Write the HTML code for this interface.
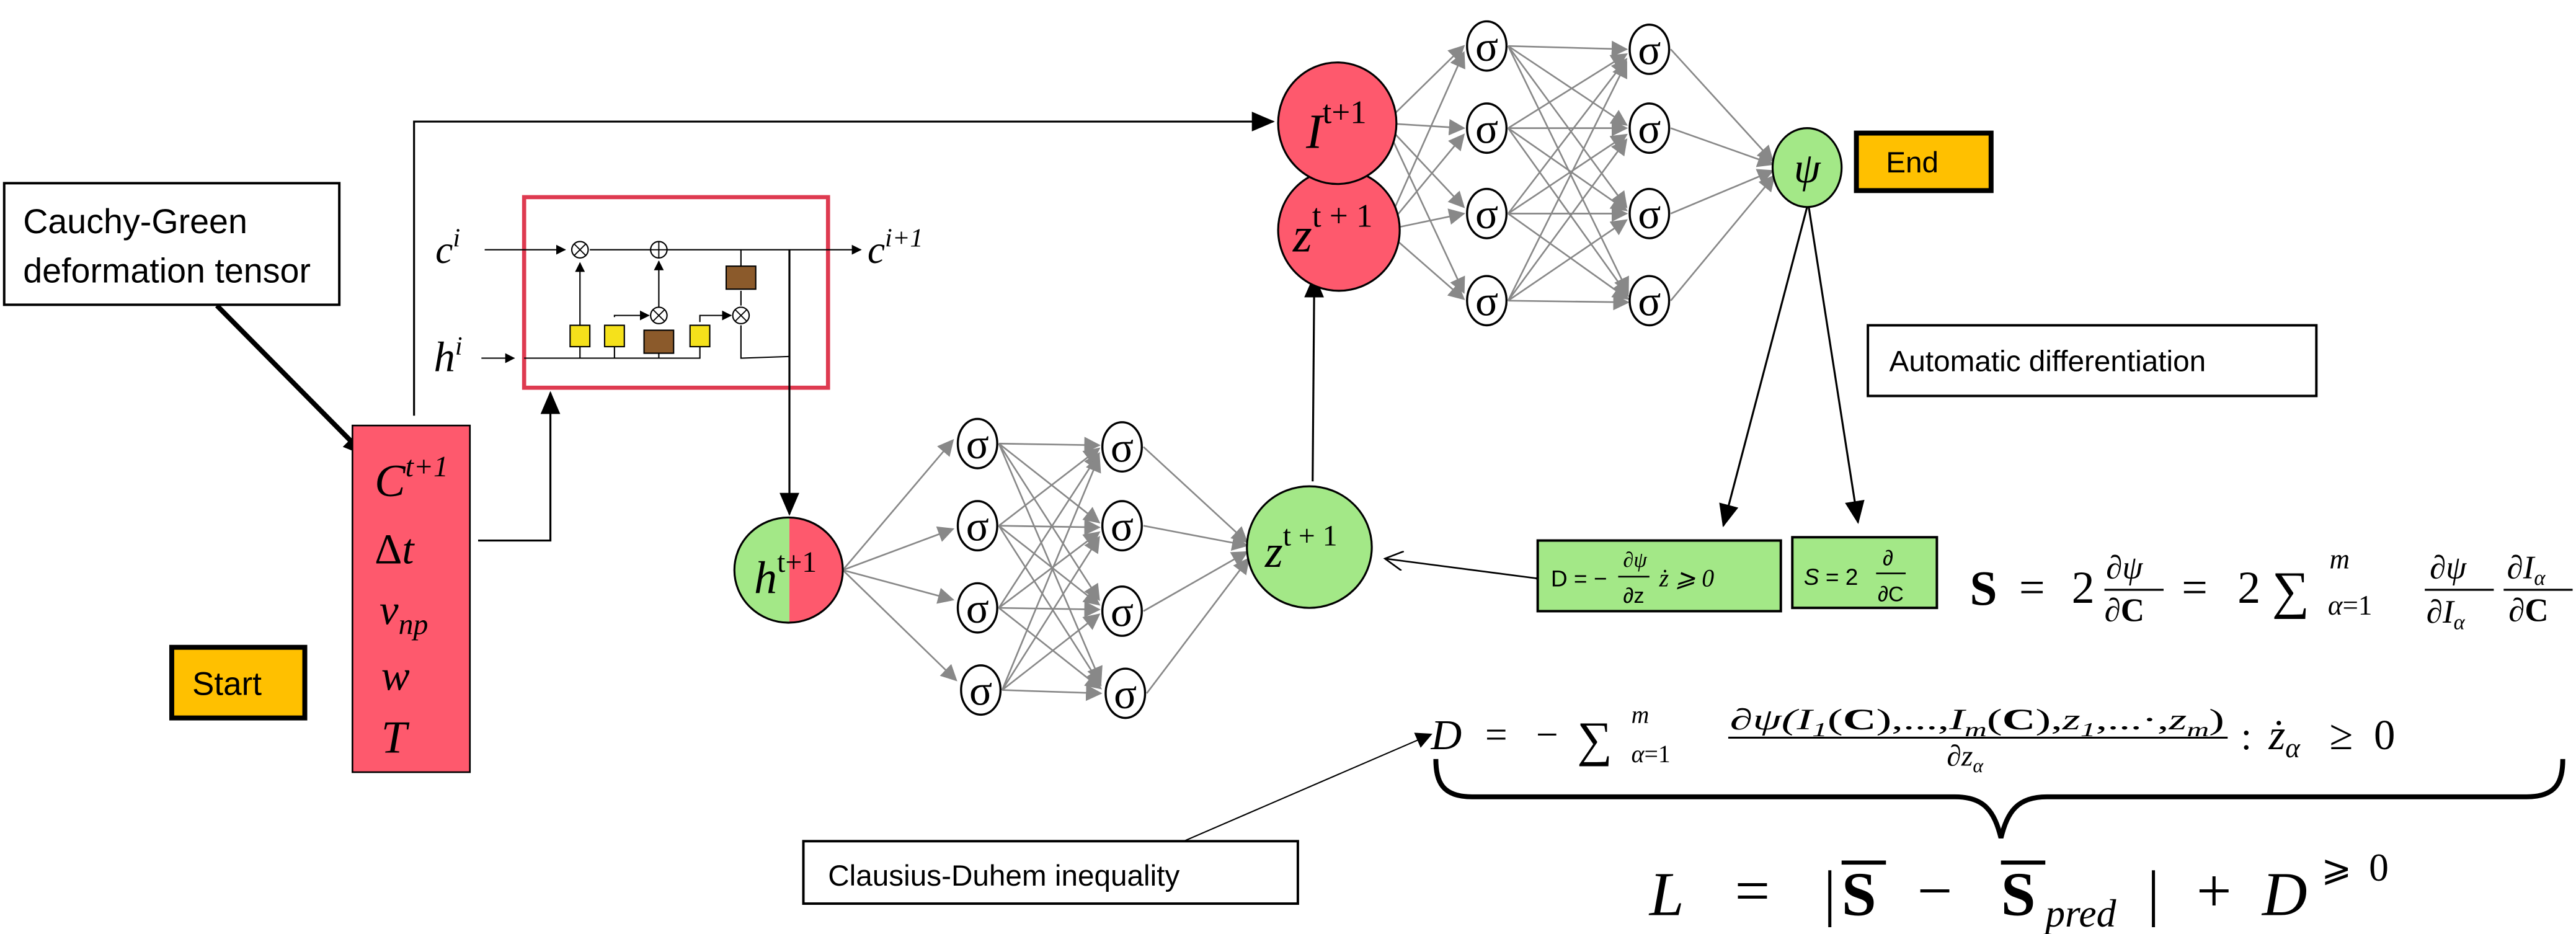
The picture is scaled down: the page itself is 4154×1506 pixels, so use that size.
<!DOCTYPE html>
<html><head><meta charset="utf-8"><style>
html,body{margin:0;padding:0;background:#fff;}
svg{display:block;}
.s{font-family:"Liberation Sans",sans-serif;}
.m{font-family:"Liberation Serif",serif;font-style:italic;}
.r{font-family:"Liberation Serif",serif;}
</style></head><body>
<svg width="4154" height="1506" viewBox="0 0 1568 568.5" xmlns="http://www.w3.org/2000/svg">
<defs>
<marker id="ab" markerWidth="10" markerHeight="10" refX="9" refY="5" orient="auto" markerUnits="userSpaceOnUse"><path d="M0,0 L10,5 L0,10 z" fill="#000"/></marker>
<marker id="abig" markerWidth="14" markerHeight="14" refX="13" refY="7" orient="auto" markerUnits="userSpaceOnUse"><path d="M0,1 L14,7 L0,13 z" fill="#000"/></marker>
<marker id="ag" markerWidth="10" markerHeight="10" refX="9" refY="5" orient="auto" markerUnits="userSpaceOnUse"><path d="M0,0 L10,5 L0,10 z" fill="#888"/></marker>
<marker id="asm" markerWidth="6" markerHeight="6" refX="5.5" refY="3" orient="auto" markerUnits="userSpaceOnUse"><path d="M0,0 L6,3 L0,6 z" fill="#000"/></marker>
<marker id="aopen" markerWidth="12" markerHeight="12" refX="11" refY="6" orient="auto" markerUnits="userSpaceOnUse"><path d="M0,0 L11,6 L0,12" fill="none" stroke="#000" stroke-width="1"/></marker>
</defs>

<rect x="2.5" y="111.5" width="204" height="74" fill="#fff" stroke="#000" stroke-width="1.5"/>
<text x="14" y="142" class="s" font-size="21">Cauchy-Green</text>
<text x="14" y="172" class="s" font-size="21">deformation tensor</text>
<line x1="132" y1="186" x2="222" y2="277" stroke="#000" stroke-width="3" marker-end="url(#abig)"/>

<rect x="104.5" y="394" width="81" height="43" fill="#FFC000" stroke="#000" stroke-width="3"/>
<text x="117" y="423" class="s" font-size="20">Start</text>

<rect x="214.5" y="259" width="71.5" height="211" fill="#FE596D" stroke="#000" stroke-width="1"/>
<text x="228" y="302" class="m" font-size="28">C<tspan font-size="18" dy="-12">t+1</tspan></text>
<text x="228" y="343" class="m" font-size="26"><tspan class="r" font-style="normal">Δ</tspan>t</text>
<text x="231" y="380" class="m" font-size="26">v<tspan font-size="18" dy="6">np</tspan></text>
<text x="232" y="420" class="m" font-size="26">w</text>
<text x="232" y="458" class="m" font-size="28">T</text>

<polyline points="252,253 252,74 775,74" fill="none" stroke="#000" stroke-width="1.2" marker-end="url(#abig)"/>
<polyline points="291,329 335,329 335,239" fill="none" stroke="#000" stroke-width="1.2" marker-end="url(#abig)"/>

<rect x="319" y="120" width="185" height="116" fill="#fff" stroke="#DE3A50" stroke-width="2.5"/>
<text x="265" y="160" class="m" font-size="24">c<tspan font-size="16" dy="-10">i</tspan></text>
<text x="264" y="226" class="m" font-size="26">h<tspan font-size="16" dy="-10">i</tspan></text>
<text x="528" y="160" class="m" font-size="24">c<tspan font-size="16" dy="-10">i+1</tspan></text>
<line x1="295" y1="152" x2="344" y2="152" stroke="#000" stroke-width="0.8" marker-end="url(#asm)"/>
<line x1="359" y1="152" x2="524" y2="152" stroke="#000" stroke-width="0.8" marker-end="url(#asm)"/>
<line x1="293" y1="218" x2="313" y2="218" stroke="#000" stroke-width="0.8" marker-end="url(#asm)"/>
<polyline points="319,218 426,218 426,210" fill="none" stroke="#000" stroke-width="0.8"/>
<line x1="353" y1="218" x2="353" y2="160" stroke="#000" stroke-width="0.8" marker-end="url(#asm)"/>
<line x1="374" y1="218" x2="374" y2="206" stroke="#000" stroke-width="0.8"/>
<polyline points="374,193 374,192 395,192" fill="none" stroke="#000" stroke-width="0.8" marker-end="url(#asm)"/>
<line x1="401" y1="187" x2="401" y2="159" stroke="#000" stroke-width="0.8" marker-end="url(#asm)"/>
<line x1="401" y1="218" x2="401" y2="210" stroke="#000" stroke-width="0.8"/>
<polyline points="426,196 426,192 445,192" fill="none" stroke="#000" stroke-width="0.8" marker-end="url(#asm)"/>
<line x1="451" y1="152" x2="451" y2="162" stroke="#000" stroke-width="0.8"/>
<line x1="451" y1="177" x2="451" y2="186" stroke="#000" stroke-width="0.8"/>
<polyline points="451,198 451,218 480,217" fill="none" stroke="#000" stroke-width="0.8"/>
<line x1="480.5" y1="152" x2="480.5" y2="313" stroke="#000" stroke-width="1.2" marker-end="url(#abig)"/>
<rect x="347" y="198" width="12" height="13" fill="#F5E11B" stroke="#000" stroke-width="0.8"/>
<rect x="368" y="198" width="12" height="13" fill="#F5E11B" stroke="#000" stroke-width="0.8"/>
<rect x="392" y="201" width="18" height="14" fill="#8B5A2B" stroke="#000" stroke-width="0.8"/>
<rect x="420" y="198" width="12" height="13" fill="#F5E11B" stroke="#000" stroke-width="0.8"/>
<rect x="442" y="162" width="18" height="14" fill="#8B5A2B" stroke="#000" stroke-width="0.8"/>
<g fill="#fff" stroke="#000" stroke-width="0.8">
<circle cx="353" cy="152" r="5"/><circle cx="401" cy="152" r="5"/><circle cx="401" cy="192" r="5"/><circle cx="451" cy="192" r="5"/>
</g>
<g stroke="#000" stroke-width="0.7">
<path d="M349.5,148.5 L356.5,155.5 M356.5,148.5 L349.5,155.5"/>
<path d="M401,147 V157 M396,152 H406"/>
<path d="M397.5,188.5 L404.5,195.5 M404.5,188.5 L397.5,195.5"/>
<path d="M447.5,188.5 L454.5,195.5 M454.5,188.5 L447.5,195.5"/>
</g>

<g stroke="#888" stroke-width="1" fill="none">
<line x1="513" y1="347" x2="580" y2="268" marker-end="url(#ag)"/>
<line x1="513" y1="347" x2="580" y2="322" marker-end="url(#ag)"/>
<line x1="513" y1="347" x2="580" y2="365" marker-end="url(#ag)"/>
<line x1="513" y1="347" x2="582" y2="414" marker-end="url(#ag)"/>
<line x1="608" y1="270" x2="669" y2="271" marker-end="url(#ag)"/>
<line x1="608" y1="270" x2="669" y2="318" marker-end="url(#ag)"/>
<line x1="608" y1="270" x2="669" y2="365" marker-end="url(#ag)"/>
<line x1="608" y1="270" x2="670" y2="415" marker-end="url(#ag)"/>
<line x1="608" y1="320" x2="669" y2="273" marker-end="url(#ag)"/>
<line x1="608" y1="320" x2="669" y2="321" marker-end="url(#ag)"/>
<line x1="608" y1="320" x2="669" y2="368" marker-end="url(#ag)"/>
<line x1="608" y1="320" x2="670" y2="417" marker-end="url(#ag)"/>
<line x1="608" y1="370" x2="669" y2="276" marker-end="url(#ag)"/>
<line x1="608" y1="370" x2="669" y2="324" marker-end="url(#ag)"/>
<line x1="608" y1="370" x2="669" y2="371" marker-end="url(#ag)"/>
<line x1="608" y1="370" x2="670" y2="419" marker-end="url(#ag)"/>
<line x1="610" y1="420" x2="669" y2="278" marker-end="url(#ag)"/>
<line x1="610" y1="420" x2="669" y2="327" marker-end="url(#ag)"/>
<line x1="610" y1="420" x2="669" y2="374" marker-end="url(#ag)"/>
<line x1="610" y1="420" x2="670" y2="422" marker-end="url(#ag)"/>
<line x1="696" y1="272" x2="759" y2="330" marker-end="url(#ag)"/>
<line x1="696" y1="320" x2="759" y2="332" marker-end="url(#ag)"/>
<line x1="696" y1="372" x2="759" y2="336" marker-end="url(#ag)"/>
<line x1="698" y1="422" x2="760" y2="340" marker-end="url(#ag)"/>
</g>
<g fill="#fff" stroke="#000" stroke-width="1.3">
<ellipse cx="595" cy="270" rx="12" ry="15"/><ellipse cx="595" cy="320" rx="12" ry="15"/><ellipse cx="595" cy="370" rx="12" ry="15"/><ellipse cx="597" cy="420" rx="12" ry="15"/>
<ellipse cx="683" cy="272" rx="12" ry="15"/><ellipse cx="683" cy="320" rx="12" ry="15"/><ellipse cx="683" cy="372" rx="12" ry="15"/><ellipse cx="685" cy="422" rx="12" ry="15"/>
</g>
<g class="r" font-size="26" text-anchor="middle">
<text x="595" y="279">σ</text><text x="595" y="329">σ</text><text x="595" y="379">σ</text><text x="597" y="429">σ</text>
<text x="683" y="281">σ</text><text x="683" y="329">σ</text><text x="683" y="381">σ</text><text x="685" y="431">σ</text>
</g>

<clipPath id="hc"><ellipse cx="480" cy="347" rx="33" ry="32"/></clipPath>
<g clip-path="url(#hc)"><rect x="440" y="310" width="40.5" height="80" fill="#A3E887"/><rect x="480.5" y="310" width="40" height="80" fill="#FE596D"/></g>
<ellipse cx="480" cy="347" rx="33" ry="32" fill="none" stroke="#000" stroke-width="1.2"/>
<text x="459" y="361" class="m" font-size="28">h<tspan font-size="18" dy="-13" font-style="normal">t+1</tspan></text>

<ellipse cx="797" cy="333" rx="38" ry="37" fill="#A3E887" stroke="#000" stroke-width="1.2"/>
<text x="770" y="345" class="m" font-size="28">z<tspan font-size="18" dy="-13" font-style="normal">t + 1</tspan></text>
<line x1="799" y1="293" x2="800" y2="168" stroke="#000" stroke-width="1.2" marker-end="url(#abig)"/>
<line x1="935" y1="352" x2="843" y2="340" stroke="#000" stroke-width="1" marker-end="url(#aopen)" marker-start="url(#aopen)"/>

<g stroke="#888" stroke-width="1" fill="none">
<line x1="843" y1="75" x2="891" y2="28" marker-end="url(#ag)"/>
<line x1="843" y1="75" x2="891" y2="78" marker-end="url(#ag)"/>
<line x1="843" y1="75" x2="891" y2="126" marker-end="url(#ag)"/>
<line x1="843" y1="75" x2="891" y2="178" marker-end="url(#ag)"/>
<line x1="843" y1="140" x2="891" y2="32" marker-end="url(#ag)"/>
<line x1="843" y1="140" x2="891" y2="82" marker-end="url(#ag)"/>
<line x1="843" y1="140" x2="891" y2="130" marker-end="url(#ag)"/>
<line x1="843" y1="140" x2="891" y2="182" marker-end="url(#ag)"/>
<line x1="918" y1="28" x2="990" y2="30" marker-end="url(#ag)"/>
<line x1="918" y1="28" x2="990" y2="76" marker-end="url(#ag)"/>
<line x1="918" y1="28" x2="990" y2="126" marker-end="url(#ag)"/>
<line x1="918" y1="28" x2="991" y2="178" marker-end="url(#ag)"/>
<line x1="918" y1="78" x2="990" y2="33" marker-end="url(#ag)"/>
<line x1="918" y1="78" x2="990" y2="78" marker-end="url(#ag)"/>
<line x1="918" y1="78" x2="990" y2="128" marker-end="url(#ag)"/>
<line x1="918" y1="78" x2="991" y2="180" marker-end="url(#ag)"/>
<line x1="918" y1="130" x2="990" y2="36" marker-end="url(#ag)"/>
<line x1="918" y1="130" x2="990" y2="82" marker-end="url(#ag)"/>
<line x1="918" y1="130" x2="990" y2="130" marker-end="url(#ag)"/>
<line x1="918" y1="130" x2="991" y2="182" marker-end="url(#ag)"/>
<line x1="918" y1="183" x2="990" y2="38" marker-end="url(#ag)"/>
<line x1="918" y1="183" x2="990" y2="85" marker-end="url(#ag)"/>
<line x1="918" y1="183" x2="990" y2="134" marker-end="url(#ag)"/>
<line x1="918" y1="183" x2="991" y2="184" marker-end="url(#ag)"/>
<line x1="1017" y1="30" x2="1079" y2="98" marker-end="url(#ag)"/>
<line x1="1017" y1="78" x2="1079" y2="100" marker-end="url(#ag)"/>
<line x1="1017" y1="130" x2="1079" y2="104" marker-end="url(#ag)"/>
<line x1="1017" y1="183" x2="1080" y2="107" marker-end="url(#ag)"/>
</g>
<g fill="#fff" stroke="#000" stroke-width="1.3">
<ellipse cx="905" cy="28" rx="12" ry="15"/><ellipse cx="905" cy="78" rx="12" ry="15"/><ellipse cx="905" cy="130" rx="12" ry="15"/><ellipse cx="905" cy="183" rx="12" ry="15"/>
<ellipse cx="1004" cy="30" rx="12" ry="15"/><ellipse cx="1004" cy="78" rx="12" ry="15"/><ellipse cx="1004" cy="130" rx="12" ry="15"/><ellipse cx="1004" cy="183" rx="12" ry="15"/>
</g>
<g class="r" font-size="26" text-anchor="middle">
<text x="905" y="37">σ</text><text x="905" y="87">σ</text><text x="905" y="139">σ</text><text x="905" y="192">σ</text>
<text x="1004" y="39">σ</text><text x="1004" y="87">σ</text><text x="1004" y="139">σ</text><text x="1004" y="192">σ</text>
</g>

<ellipse cx="815" cy="140" rx="37" ry="37" fill="#FE596D" stroke="#000" stroke-width="1.2"/>
<ellipse cx="814" cy="75" rx="36" ry="37" fill="#FE596D" stroke="#000" stroke-width="1.2"/>
<text x="795" y="90" class="m" font-size="30">I<tspan font-size="20" dy="-15" font-style="normal">t+1</tspan></text>
<text x="787" y="153" class="m" font-size="30">z<tspan font-size="20" dy="-15" font-style="normal">t + 1</tspan></text>

<ellipse cx="1100" cy="102" rx="21" ry="24" fill="#A3E887" stroke="#000" stroke-width="1.2"/>
<text x="1100" y="111" class="m" font-size="26" text-anchor="middle">ψ</text>
<rect x="1130" y="81" width="82" height="35" fill="#FFC000" stroke="#000" stroke-width="3"/>
<text x="1148" y="105" class="s" font-size="18">End</text>

<line x1="1100" y1="126" x2="1049" y2="320" stroke="#000" stroke-width="1.2" marker-end="url(#abig)"/>
<line x1="1101" y1="126" x2="1131" y2="318" stroke="#000" stroke-width="1.2" marker-end="url(#abig)"/>

<rect x="1137" y="198" width="273" height="43" fill="#fff" stroke="#000" stroke-width="1.5"/>
<text x="1150" y="226" class="s" font-size="18">Automatic differentiation</text>

<rect x="936" y="329" width="148" height="43" fill="#A3E887" stroke="#000" stroke-width="1.5"/>
<text x="944" y="357" class="s" font-size="14">D = −</text>
<text x="988" y="345" class="r" font-size="13" font-style="italic">∂ψ</text>
<line x1="985" y1="351" x2="1004" y2="351" stroke="#000" stroke-width="1"/>
<text x="988" y="367" class="s" font-size="13">∂z</text>
<text x="1010" y="357" class="m" font-size="15">ż  ⩾  0</text>
<rect x="1091" y="327" width="88" height="43" fill="#A3E887" stroke="#000" stroke-width="1.5"/>
<text x="1098" y="356" class="s" font-size="14"><tspan font-style="italic">S</tspan>  =  2</text>
<text x="1146" y="344" class="s" font-size="13">∂</text>
<line x1="1142" y1="349" x2="1160" y2="349" stroke="#000" stroke-width="1"/>
<text x="1143" y="366" class="s" font-size="13">∂C</text>

<!-- S equation -->
<g class="r">
<text x="1199" y="368" font-size="30" font-weight="bold">S</text>
<text x="1229" y="367" font-size="28">=</text>
<text x="1261" y="367" font-size="28">2</text>
<text x="1282" y="352" font-size="20" font-style="italic">∂ψ</text>
<line x1="1281" y1="359" x2="1317" y2="359" stroke="#000" stroke-width="1.2"/>
<text x="1281" y="378" font-size="20">∂<tspan font-weight="bold">C</tspan></text>
<text x="1328" y="367" font-size="28">=</text>
<text x="1362" y="367" font-size="28">2</text>
<text x="1383" y="370" font-size="32">∑</text>
<text x="1418" y="346" font-size="17" font-style="italic">m</text>
<text x="1417" y="374" font-size="17"><tspan font-style="italic">α</tspan>=1</text>
<text x="1479" y="352" font-size="20" font-style="italic">∂ψ</text>
<line x1="1476" y1="359" x2="1518" y2="359" stroke="#000" stroke-width="1.2"/>
<text x="1477" y="379" font-size="20" font-style="italic">∂I<tspan font-size="13" dy="4">α</tspan></text>
<text x="1526" y="352" font-size="20" font-style="italic">∂I<tspan font-size="13" dy="4">α</tspan></text>
<line x1="1524" y1="359" x2="1566" y2="359" stroke="#000" stroke-width="1.2"/>
<text x="1527" y="378" font-size="20">∂<tspan font-weight="bold">C</tspan></text>
</g>

<!-- D equation -->
<g class="r">
<text x="871" y="456" font-size="26" font-style="italic">D</text>
<text x="904" y="455" font-size="24">=</text>
<text x="935" y="455" font-size="24">−</text>
<text x="960" y="460" font-size="30">∑</text>
<text x="993" y="440" font-size="15" font-style="italic">m</text>
<text x="993" y="464" font-size="15"><tspan font-style="italic">α</tspan>=1</text>
<text x="1053" y="444" font-size="18" font-style="italic" textLength="301" lengthAdjust="spacingAndGlyphs">∂ψ(I<tspan font-size="12" dy="4">1</tspan><tspan dy="-4" font-style="normal">(<tspan font-weight="bold">C</tspan>),...,</tspan>I<tspan font-size="12" dy="4">m</tspan><tspan dy="-4" font-style="normal">(<tspan font-weight="bold">C</tspan>),</tspan>z<tspan font-size="12" dy="4">1</tspan><tspan dy="-4" font-style="normal">,...·,</tspan>z<tspan font-size="12" dy="4">m</tspan><tspan dy="-4" font-style="normal">)</tspan></text>
<line x1="1052" y1="449" x2="1356" y2="449" stroke="#000" stroke-width="1.2"/>
<text x="1185" y="466" font-size="18" font-style="italic">∂z<tspan font-size="12" dy="4">α</tspan></text>
<text x="1364" y="456" font-size="24">:</text>
<text x="1381" y="456" font-size="26" font-style="italic">ż<tspan font-size="17" dy="5">α</tspan></text>
<text x="1418" y="456" font-size="26">≥</text>
<text x="1445" y="456" font-size="26">0</text>
</g>
<line x1="702" y1="520" x2="871" y2="447" stroke="#000" stroke-width="0.8" marker-end="url(#ab)"/>

<path d="M874,462 C874,476 878,485 896,485 L1190,485 C1208,485 1214,494 1218,510 C1222,494 1228,485 1246,485 L1538,485 C1556,485 1560,476 1560,462" fill="none" stroke="#000" stroke-width="3"/>

<rect x="489" y="512" width="301" height="38" fill="#fff" stroke="#000" stroke-width="1.5"/>
<text x="504" y="539" class="s" font-size="18">Clausius-Duhem inequality</text>

<!-- L equation -->
<g class="r">
<text x="1004" y="557" font-size="38" font-style="italic">L</text>
<text x="1056" y="555" font-size="38">=</text>
<text x="1110" y="556" font-size="38">|</text>
<text x="1121" y="557" font-size="38" font-weight="bold">S</text>
<line x1="1121" y1="525" x2="1148" y2="525" stroke="#000" stroke-width="2.5"/>
<text x="1167" y="555" font-size="38">−</text>
<text x="1218" y="557" font-size="38" font-weight="bold">S</text>
<line x1="1218" y1="525" x2="1245" y2="525" stroke="#000" stroke-width="2.5"/>
<text x="1245" y="564" font-size="24" font-style="italic">pred</text>
<text x="1307" y="556" font-size="38">|</text>
<text x="1337" y="555" font-size="38">+</text>
<text x="1377" y="557" font-size="38" font-style="italic">D</text>
<text x="1413" y="536" font-size="22">⩾</text>
<text x="1442" y="536" font-size="24">0</text>
</g>
</svg>
</body></html>
